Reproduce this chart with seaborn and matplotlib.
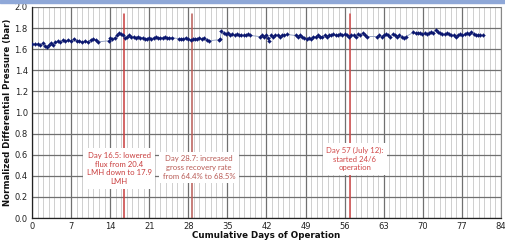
import matplotlib
matplotlib.use("Agg")
import matplotlib.pyplot as plt
import seaborn as sns
import pandas as pd
from matplotlib.ticker import MultipleLocator

days = [0.0, 0.5, 1.0, 1.5, 2.0, 2.3, 2.7, 3.0, 3.4, 3.8, 4.2, 4.7, 5.1, 5.6, 6.0, 6.5, 7.0, 7.5, 8.0, 8.5,
        9.0, 9.5, 10.0, 10.5, 11.0, 11.4, 11.8,
        13.8, 14.0, 14.4, 14.8, 15.2, 15.5, 15.9, 16.3, 16.7, 17.0, 17.4, 17.8, 18.2, 18.6, 19.0, 19.4, 19.8,
        20.2, 20.6, 21.0, 21.4, 21.8, 22.2, 22.6, 23.0, 23.4, 23.8, 24.2, 24.6, 25.0,
        26.3, 26.7, 27.1, 27.5, 28.0, 28.4, 28.8, 29.2, 29.6, 30.0, 30.4, 30.8, 31.3, 31.7,
        33.5, 33.7, 33.9, 34.3, 34.7, 35.1, 35.5, 35.9, 36.3, 36.7, 37.1, 37.5, 37.9, 38.3, 38.7, 39.1,
        40.8, 41.2, 41.6, 42.0, 42.3, 42.5, 42.8, 43.2, 43.6, 44.0, 44.4, 44.8, 45.2, 45.6,
        47.2, 47.6, 48.0, 48.4, 48.8, 49.2, 49.6, 50.0, 50.4, 50.8, 51.2, 51.6, 52.0, 52.4, 52.8, 53.2,
        53.6, 54.0, 54.4, 54.8, 55.2, 55.6, 56.0, 56.4, 56.8, 57.2, 57.6, 58.0, 58.4, 58.8, 59.2, 59.6, 60.0,
        61.8, 62.2, 62.6, 63.0, 63.4, 63.8, 64.2, 64.6, 65.0, 65.4, 65.8, 66.2, 66.6, 67.0,
        68.3, 68.7, 69.1, 69.5, 69.9, 70.3, 70.7, 71.1, 71.5, 71.9, 72.3, 72.7, 73.1, 73.5, 73.9, 74.3,
        74.7, 75.1, 75.5, 75.9, 76.3, 76.7, 77.1, 77.5, 77.9, 78.3, 78.7, 79.1, 79.5, 79.9, 80.3, 80.7]
pressure = [1.65, 1.65, 1.65, 1.64, 1.66, 1.63, 1.62, 1.64, 1.66, 1.64, 1.67, 1.68, 1.67, 1.69, 1.68, 1.69, 1.68, 1.70, 1.68, 1.68,
            1.67, 1.68, 1.67, 1.69, 1.70, 1.69, 1.67,
            1.68, 1.71, 1.70, 1.71, 1.73, 1.75, 1.74, 1.73, 1.71, 1.72, 1.73, 1.72, 1.72, 1.71, 1.72, 1.71, 1.71,
            1.70, 1.70, 1.71, 1.70, 1.71, 1.72, 1.71, 1.71, 1.71, 1.72, 1.71, 1.71, 1.71,
            1.70, 1.70, 1.70, 1.71, 1.70, 1.69, 1.70, 1.70, 1.70, 1.71, 1.70, 1.71, 1.69, 1.68,
            1.69, 1.70, 1.77, 1.75, 1.74, 1.75, 1.73, 1.74, 1.73, 1.74, 1.73, 1.73, 1.73, 1.73, 1.74, 1.73,
            1.72, 1.73, 1.72, 1.73, 1.71, 1.68, 1.73, 1.72, 1.73, 1.73, 1.72, 1.73, 1.73, 1.74,
            1.73, 1.72, 1.73, 1.72, 1.71, 1.70, 1.71, 1.70, 1.72, 1.72, 1.73, 1.72, 1.72, 1.73, 1.72, 1.73,
            1.73, 1.74, 1.73, 1.73, 1.74, 1.73, 1.74, 1.73, 1.72, 1.73, 1.73, 1.72, 1.74, 1.73, 1.75, 1.73, 1.72,
            1.72, 1.73, 1.72, 1.73, 1.74, 1.73, 1.72, 1.74, 1.73, 1.72, 1.73, 1.72, 1.71, 1.72,
            1.76, 1.75, 1.75, 1.75, 1.74, 1.75, 1.74, 1.75, 1.76, 1.75, 1.78, 1.76, 1.75, 1.74, 1.74, 1.75,
            1.74, 1.73, 1.73, 1.72, 1.73, 1.74, 1.73, 1.74, 1.75, 1.74, 1.76, 1.74, 1.73, 1.73, 1.73, 1.73]

event_days = [16.5, 28.7, 57.0]
event_texts = ["Day 16.5: lowered\nflux from 20.4\nLMH down to 17.9\nLMH",
               "Day 28.7: increased\ngross recovery rate\nfrom 64.4% to 68.5%",
               "Day 57 (July 12):\nstarted 24/6\noperation"]
event_text_x = [15.6, 29.9, 57.8]
event_text_y = [0.47, 0.48, 0.56]
event_colors = ["#c83c3c", "#b85a55", "#d04848"]

x_ticks = list(range(0, 85, 7))
y_ticks = [round(0.2 * i, 1) for i in range(11)]

df = pd.DataFrame({"day": days, "p": pressure})

sns.set_style("white")
plt.rcParams['font.family'] = ['DejaVu Sans']

fig = plt.figure(figsize=(5.06, 2.40), dpi=100)
ax = fig.add_axes([32 / 506, 1 - 218 / 240, (501 - 32) / 506, (218 - 7) / 240])

# grid
ax.xaxis.set_minor_locator(MultipleLocator(1))
ax.set_xticks(x_ticks)
ax.set_yticks(y_ticks)
ax.grid(which='minor', axis='x', color='#c8c8c8', lw=0.6)
ax.grid(which='major', axis='x', color='#707070', lw=0.9)
ax.grid(which='major', axis='y', color='#707070', lw=0.9)
ax.set_axisbelow(True)

sns.lineplot(data=df, x="day", y="p", ax=ax, color="#8595bb", lw=0.6, zorder=3)
sns.scatterplot(data=df, x="day", y="p", ax=ax, color="#0c1870", marker='D', s=4,
                edgecolor="#0c1870", linewidth=0.2, zorder=4)

for d, t, tx, ty, c in zip(event_days, event_texts, event_text_x, event_text_y, event_colors):
    ax.plot([d, d], [0, 1.93], color=c, lw=1.1, zorder=2)
    ax.text(tx, ty, t, color=c, fontsize=5.6, ha='center', va='center', zorder=5,
            linespacing=1.3, family=['Lato', 'DejaVu Sans'],
            bbox=dict(facecolor='white', edgecolor='none', boxstyle='square,pad=0.45'))

ax.set_xlim(0, 84)
ax.set_ylim(0, 2.0)
ax.set_yticklabels([f"{v:.1f}" for v in y_ticks])
ax.tick_params(axis='both', which='major', labelsize=6, length=0, pad=3, colors='#222222')
ax.tick_params(axis='x', which='minor', length=2, color='#555555', direction='in')
ax.tick_params(axis='x', which='major', length=2, color='#333333', direction='in')
ax.set_xlabel("")
ax.set_ylabel("")

for s in ['left', 'bottom']:
    ax.spines[s].set_color('#222222')
    ax.spines[s].set_linewidth(0.9)
ax.spines['right'].set_color('#888888')
ax.spines['top'].set_visible(False)

fig.text((32 + 501) / 2 / 506, 1 - 235 / 240, "Cumulative Days of Operation", ha='center', va='center',
         fontsize=6.3, fontweight='bold', color='#111111')
fig.text(8 / 506, 1 - 112 / 240, "Normalized Differential Pressure (bar)", rotation=90, ha='center',
         va='center', fontsize=6.2, fontweight='bold', color='#111111')

# top strip
fig.patches.append(plt.Rectangle((0, 1 - 2.5 / 240), 1, 2.5 / 240, transform=fig.transFigure,
                                 color='#8fa8d8', zorder=0))

fig.savefig("out.png", dpi=100)
